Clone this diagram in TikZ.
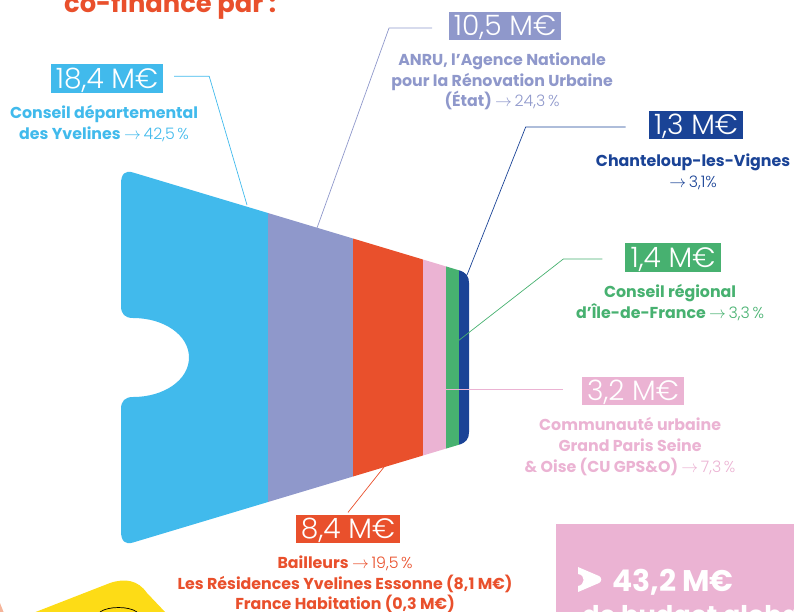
\documentclass[tikz,border=0pt]{standalone}
\usepackage{fontspec}
\setmainfont{Poppins}
\newfontfamily\lightfont{Poppins Light}
\usetikzlibrary{positioning}
\definecolor{yvblue}{HTML}{41BAEC}
\definecolor{anrupurple}{HTML}{8F98CB}
\definecolor{bailred}{HTML}{E9502C}
\definecolor{cupink}{HTML}{EBB3D3}
\definecolor{idfgreen}{HTML}{47B170}
\definecolor{chantblue}{HTML}{1A4396}
\definecolor{blobyellow}{HTML}{FDDC16}
\definecolor{peach}{HTML}{F5B59A}
\tikzset{
  amount/.style   = {inner xsep=4.5pt, inner ysep=3.9pt, text height=16.8pt, text depth=0pt,
                     text=white, font=\lightfont\fontsize{24}{24}\selectfont},
  caption/.style  = {align=center, inner sep=0pt, font=\bfseries\fontsize{13.5}{17.8}\selectfont},
  lead/.style     = {line width=0.6pt},
}
\newcommand\pct[1]{{\lightfont\mdseries$\rightarrow$\,#1}}

\begin{document}
\begin{tikzpicture}[x=0.03cm, y=-0.03cm]
  \clip (0,0) rectangle (794,611);
  \node (title) [anchor=base west, inner sep=0pt, text=bailred,
    font=\bfseries\fontsize{22}{22}\selectfont] at (64,12) {co-financé par :};

  % funnel
  \begin{scope}
    \clip (121,184) .. controls (121,174) and (125,170) .. (133,172.5)
      -- (459,270.3) .. controls (466,272.4) and (469,276) .. (469,283)
      -- (469,432) .. controls (469,439) and (466,442.6) .. (459,444.7)
      -- (133,542.5) .. controls (125,545) and (121,541) .. (121,531)
      -- (121,409) .. controls (121,401) and (125,397) .. (133,397)
      .. controls (164,397) and (189,380) .. (189,357.5)
      .. controls (189,335) and (164,318) .. (133,318)
      .. controls (125,318) and (121,314) .. (121,306) -- cycle;
    \fill[yvblue]     (110,160) rectangle (268,560);
    \fill[anrupurple] (268,160) rectangle (353,560);
    \fill[bailred]    (353,160) rectangle (423,560);
    \fill[cupink]     (423,160) rectangle (446,560);
    \fill[idfgreen]   (446,160) rectangle (459,560);
    \fill[chantblue]  (459,160) rectangle (475,560);
  \end{scope}
  \coordinate (yv-end)    at (247,205);
  \coordinate (anru-end)  at (317,228);
  \coordinate (chant-end) at (467,275);
  \coordinate (idf-end)   at (458,341);
  \coordinate (bail-end)  at (388,462);

  % amounts and captions
  \node (yv) [amount, fill=yvblue] at (107,78.5) {18,4 M€};
  \node (yv-txt) [caption, text=yvblue, below=10pt of yv, xshift=-2.5pt]
    {Conseil départemental\\des Yvelines \pct{42,5\,\%}};
  \node (anru) [amount, fill=anrupurple] at (505,26) {10,5 M€};
  \node (anru-txt) [caption, text=anrupurple, below=10pt of anru, xshift=-2.5pt]
    {ANRU, l’Agence Nationale\\pour la Rénovation Urbaine\\(État) \pct{24,3\,\%}};
  \node (chant) [amount, fill=chantblue] at (696,125) {1,3 M€};
  \node (chant-txt) [caption, text=chantblue, below=12pt of chant, xshift=-2.5pt]
    {Chanteloup-les-Vignes\\\pct{3,1\%}};
  \node (idf) [amount, fill=idfgreen] at (673,257.5) {1,4 M€};
  \node (idf-txt) [caption, text=idfgreen, below=10pt of idf, xshift=-2.5pt]
    {Conseil régional\\d’Île-de-France \pct{3,3\,\%}};
  \node (cu) [amount, fill=cupink] at (633,391) {3,2 M€};
  \node (cu-txt) [caption, text=cupink, below=10pt of cu, xshift=-2.5pt]
    {Communauté urbaine\\Grand Paris Seine\\\& Oise (CU GPS\&O) \pct{7,3\,\%}};
  \node (bail) [amount, fill=bailred] at (348,529) {8,4 M€};
  \node (bail-txt) [caption, text=bailred, below=10pt of bail, xshift=-2.5pt]
    {Bailleurs \pct{19,5\,\%}\\Les Résidences Yvelines Essonne (8,1 M€)\\France Habitation (0,3 M€)};

  % leaders
  \draw[lead, yvblue]     ([xshift=9pt, yshift=2pt]yv.east) -- ++(35,0) -- (yv-end);
  \draw[lead, anrupurple] ([xshift=-14pt, yshift=-1.7pt]anru.west) -- ++(-43,0) -- (anru-end);
  \draw[lead, chantblue]  ([xshift=-19.5pt, yshift=-1.7pt]chant.west) -- ++(-100,0) -- (chant-end);
  \draw[lead, idfgreen]   ([xshift=-19.5pt, yshift=-1.3pt]idf.west) -- ++(-39,0) -- (idf-end);
  \draw[lead, cupink]     ([xshift=-16pt, yshift=1.7pt]cu.west) -- ++(-117,0);
  \draw[lead, bailred]    ([yshift=1.7pt]bail.north) -- (bail-end);

  % total, cut by the frame
  \fill[cupink] (556,524) rectangle (800,620);
  \fill[white] (578,567) -- (599,576) .. controls (602,578) and (602,581) .. (599,583)
    -- (578,592) -- (578,586) .. controls (585,585) and (586,575) .. (578,574) -- cycle;
  \node (total) [anchor=base west, inner sep=0pt, text=white,
    font=\bfseries\fontsize{25.5}{25.5}\selectfont] at (612,591) {43,2 M€};
  \node (total-txt) [anchor=base west, inner sep=0pt, text=white,
    font=\bfseries\fontsize{22}{22}\selectfont] at (582,624) {de budget global};

  % shapes at the bottom left, cut by the frame
  \fill[blobyellow] (33,613) -- (110,583) .. controls (125,578) and (138,580) .. (147,593) -- (166,613) -- cycle;
  \draw[line width=0.6pt] (100,612) .. controls (108,606) and (129,606) .. (137,612);
  \fill[peach] (-2,598) -- (4,613) -- (-2,613) -- cycle;
\end{tikzpicture}
\end{document}
